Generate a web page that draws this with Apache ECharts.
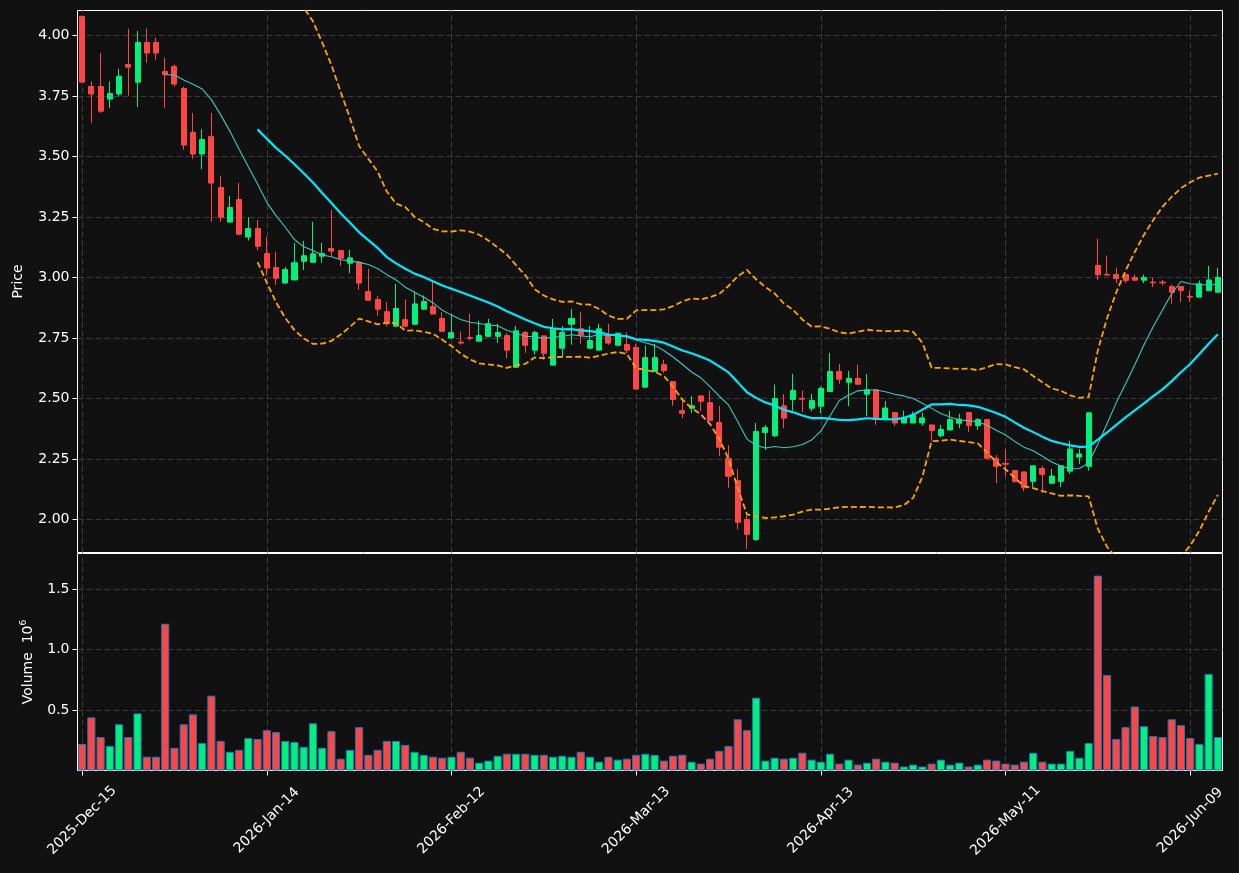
<!DOCTYPE html>
<html>
<head>
<meta charset="utf-8">
<script src="https://cdn.jsdelivr.net/npm/echarts@6/dist/echarts.min.js"></script>
<style>
  html, body { margin: 0; padding: 0; background: #111111; }
  #chart { width: 1239px; height: 873px; }
</style>
</head>
<body>
<div id="chart"></div>
<script>
// trading days, grouped by month
const monthDays = [
  ['2025', 'Dec', [15, 16, 17, 18, 19, 22, 23, 24, 26, 29, 30, 31]],
  ['2026', 'Jan', [2, 5, 6, 7, 8, 9, 12, 13, 14, 15, 16, 20, 21, 22, 23, 26, 27, 28, 29, 30]],
  ['2026', 'Feb', [2, 3, 4, 5, 6, 9, 10, 11, 12, 13, 17, 18, 19, 20, 23, 24, 25, 26, 27]],
  ['2026', 'Mar', [2, 3, 4, 5, 6, 9, 10, 11, 12, 13, 16, 17, 18, 19, 20, 23, 24, 25, 26, 27, 30, 31]],
  ['2026', 'Apr', [1, 2, 6, 7, 8, 9, 10, 13, 14, 15, 16, 17, 20, 21, 22, 23, 24, 27, 28, 29, 30]],
  ['2026', 'May', [1, 4, 5, 6, 7, 8, 11, 12, 13, 14, 15, 18, 19, 20, 21, 22, 26, 27, 28, 29]],
  ['2026', 'Jun', [1, 2, 3, 4, 5, 8, 9, 10, 11, 12]]
];
const dates = [];
monthDays.forEach(function (m) {
  m[2].forEach(function (d) { dates.push(m[0] + '-' + m[1] + '-' + (d < 10 ? '0' + d : d)); });
});

const opens = [
  4.079, 3.789, 3.789, 3.737, 3.758, 3.880, 3.807, 3.971, 3.971, 3.851,
  3.872, 3.781, 3.599, 3.510, 3.583, 3.372, 3.229, 3.322, 3.167, 3.202,
  3.099, 3.041, 2.977, 2.990, 3.067, 3.063, 3.088, 3.120, 3.111, 3.059,
  3.063, 2.942, 2.909, 2.859, 2.799, 2.826, 2.807, 2.869, 2.880, 2.831,
  2.750, 2.733, 2.752, 2.737, 2.757, 2.757, 2.760, 2.629, 2.773, 2.700,
  2.759, 2.638, 2.708, 2.807, 2.788, 2.708, 2.700, 2.759, 2.720, 2.723,
  2.711, 2.547, 2.612, 2.640, 2.570, 2.450, 2.460, 2.511, 2.483, 2.401,
  2.252, 2.161, 2.001, 1.918, 2.360, 2.347, 2.470, 2.496, 2.501, 2.460,
  2.468, 2.529, 2.612, 2.567, 2.583, 2.518, 2.536, 2.416, 2.442, 2.399,
  2.399, 2.399, 2.391, 2.347, 2.370, 2.398, 2.442, 2.388, 2.413, 2.252,
  2.232, 2.203, 2.197, 2.158, 2.211, 2.150, 2.158, 2.200, 2.258, 2.220,
  3.050, 3.012, 3.012, 3.012, 3.000, 2.989, 2.981, 2.981, 2.963, 2.963,
  2.922, 2.919, 2.946, 2.939
];
const highs = [
  4.079, 3.810, 3.928, 3.810, 3.862, 4.028, 4.018, 4.028, 3.990, 3.908,
  3.880, 3.789, 3.680, 3.612, 3.680, 3.420, 3.337, 3.391, 3.249, 3.238,
  3.167, 3.107, 3.043, 3.143, 3.151, 3.230, 3.143, 3.279, 3.111, 3.114,
  3.069, 3.036, 2.924, 2.899, 2.974, 2.909, 2.942, 2.926, 2.982, 2.857,
  2.850, 2.777, 2.850, 2.821, 2.829, 2.809, 2.770, 2.800, 2.780, 2.780,
  2.759, 2.829, 2.800, 2.870, 2.857, 2.800, 2.809, 2.809, 2.770, 2.773,
  2.726, 2.718, 2.726, 2.660, 2.570, 2.492, 2.510, 2.511, 2.533, 2.470,
  2.308, 2.209, 2.017, 2.399, 2.391, 2.558, 2.519, 2.602, 2.533, 2.519,
  2.550, 2.689, 2.643, 2.614, 2.640, 2.602, 2.536, 2.490, 2.442, 2.450,
  2.446, 2.441, 2.391, 2.391, 2.450, 2.437, 2.442, 2.419, 2.413, 2.267,
  2.292, 2.203, 2.197, 2.222, 2.222, 2.209, 2.222, 2.326, 2.292, 2.441,
  3.160, 3.091, 3.040, 3.012, 3.012, 3.012, 2.999, 2.990, 2.971, 2.963,
  2.946, 2.988, 3.048, 3.040
];
const lows = [
  3.807, 3.638, 3.679, 3.701, 3.748, 3.751, 3.704, 3.887, 3.899, 3.701,
  3.789, 3.528, 3.490, 3.448, 3.230, 3.230, 3.227, 3.175, 3.153, 3.112,
  3.008, 2.970, 2.974, 2.990, 3.031, 3.063, 3.061, 3.088, 3.048, 3.018,
  2.949, 2.906, 2.842, 2.798, 2.799, 2.795, 2.807, 2.869, 2.849, 2.778,
  2.750, 2.723, 2.740, 2.737, 2.757, 2.730, 2.667, 2.629, 2.689, 2.682,
  2.660, 2.638, 2.674, 2.722, 2.726, 2.708, 2.700, 2.722, 2.720, 2.687,
  2.539, 2.547, 2.612, 2.605, 2.470, 2.419, 2.441, 2.448, 2.409, 2.263,
  2.131, 1.961, 1.879, 1.912, 2.288, 2.340, 2.377, 2.450, 2.443, 2.448,
  2.440, 2.529, 2.561, 2.468, 2.559, 2.428, 2.391, 2.409, 2.386, 2.399,
  2.399, 2.388, 2.326, 2.340, 2.370, 2.377, 2.362, 2.371, 2.249, 2.150,
  2.178, 2.152, 2.117, 2.134, 2.110, 2.150, 2.134, 2.189, 2.230, 2.202,
  2.990, 3.010, 2.977, 2.977, 2.989, 2.977, 2.960, 2.968, 2.891, 2.898,
  2.898, 2.919, 2.946, 2.939
];
const closes = [
  3.807, 3.758, 3.687, 3.760, 3.831, 3.869, 3.971, 3.927, 3.927, 3.839,
  3.799, 3.547, 3.510, 3.570, 3.390, 3.249, 3.289, 3.179, 3.202, 3.129,
  3.039, 2.997, 3.033, 3.061, 3.090, 3.098, 3.099, 3.109, 3.080, 3.081,
  2.977, 2.906, 2.869, 2.809, 2.872, 2.799, 2.891, 2.901, 2.849, 2.778,
  2.772, 2.729, 2.749, 2.760, 2.809, 2.773, 2.700, 2.780, 2.720, 2.773,
  2.687, 2.788, 2.773, 2.831, 2.762, 2.740, 2.788, 2.729, 2.770, 2.700,
  2.539, 2.669, 2.669, 2.616, 2.496, 2.439, 2.470, 2.489, 2.409, 2.299,
  2.179, 1.989, 1.939, 2.364, 2.380, 2.500, 2.419, 2.533, 2.497, 2.492,
  2.542, 2.612, 2.580, 2.583, 2.559, 2.536, 2.416, 2.461, 2.399, 2.421,
  2.431, 2.420, 2.368, 2.372, 2.413, 2.415, 2.388, 2.413, 2.253, 2.220,
  2.229, 2.158, 2.131, 2.222, 2.187, 2.180, 2.222, 2.292, 2.271, 2.441,
  3.011, 3.010, 2.996, 2.988, 2.989, 3.000, 2.978, 2.978, 2.939, 2.946,
  2.919, 2.974, 2.990, 3.000
];
// volume in millions
const volumes = [
  0.220, 0.440, 0.277, 0.204, 0.383, 0.277, 0.473, 0.114, 0.114, 1.215,
  0.188, 0.383, 0.465, 0.228, 0.620, 0.245, 0.155, 0.171, 0.269, 0.261,
  0.334, 0.318, 0.245, 0.236, 0.196, 0.391, 0.188, 0.326, 0.098, 0.171,
  0.359, 0.130, 0.171, 0.245, 0.245, 0.212, 0.155, 0.130, 0.114, 0.106,
  0.114, 0.155, 0.106, 0.065, 0.082, 0.122, 0.139, 0.139, 0.139, 0.130,
  0.130, 0.114, 0.122, 0.114, 0.155, 0.114, 0.073, 0.114, 0.090, 0.098,
  0.130, 0.139, 0.130, 0.082, 0.122, 0.130, 0.073, 0.057, 0.098, 0.163,
  0.204, 0.424, 0.334, 0.603, 0.082, 0.106, 0.098, 0.106, 0.147, 0.090,
  0.073, 0.139, 0.057, 0.090, 0.049, 0.065, 0.098, 0.073, 0.065, 0.033,
  0.049, 0.033, 0.057, 0.090, 0.049, 0.065, 0.033, 0.049, 0.090, 0.082,
  0.057, 0.049, 0.073, 0.147, 0.073, 0.057, 0.057, 0.163, 0.106, 0.228,
  1.614, 0.791, 0.261, 0.359, 0.530, 0.367, 0.285, 0.277, 0.424, 0.375,
  0.269, 0.220, 0.799, 0.277
];
const priceTicks = [2.00, 2.25, 2.50, 2.75, 3.00, 3.25, 3.50, 3.75, 4.00];
const volumeTicks = [0.5, 1.0, 1.5];
const dateTickIdx = [0, 20, 40, 60, 80, 100, 120];

const UP = '#00f07c', DOWN = '#ff4646';
const GRID_LINE = { color: '#3a3a3a', type: [6, 3], width: 1 };
const BAND_LINE = { color: '#ffa500', width: 1.8, type: [6, 3] };

// rolling mean / bands from the closes
function rolling(n, fn) {
  return closes.map(function (c, i) {
    if (i < n - 1) return '-';
    return fn(closes.slice(i - n + 1, i + 1));
  });
}
function mean(a) { return a.reduce(function (s, v) { return s + v; }, 0) / a.length; }
function std(a) { const m = mean(a); return Math.sqrt(mean(a.map(function (v) { return (v - m) * (v - m); }))); }
const ma10 = rolling(10, mean);
const ma20 = rolling(20, mean);
const bbUp = rolling(20, function (a) { return mean(a) + 2 * std(a); });
const bbDn = rolling(20, function (a) { return mean(a) - 2 * std(a); });

const candles = dates.map(function (d, i) { return [opens[i], closes[i], lows[i], highs[i]]; });
const volBars = volumes.map(function (v, i) {
  return { value: v, itemStyle: { color: closes[i] >= opens[i] ? UP : DOWN } };
});
const vLines = dateTickIdx.map(function (i) { return { xAxis: dates[i] }; });

let chart = echarts.init(document.getElementById('chart'));
chart.setOption({
  animation: false,
  backgroundColor: '#111111',
  textStyle: { fontFamily: 'DejaVu Sans' },
  grid: [
    { left: 77.5, top: 10.5, width: 1145, height: 542, show: true, borderColor: '#ffffff', borderWidth: 1, backgroundColor: 'transparent' },
    { left: 77.5, top: 553.5, width: 1145, height: 217, show: true, borderColor: '#ffffff', borderWidth: 1, backgroundColor: 'transparent' }
  ],
  xAxis: [
    { type: 'category', gridIndex: 0, data: dates, boundaryGap: true,
      axisLine: { show: false }, axisTick: { show: false }, axisLabel: { show: false }, splitLine: { show: false } },
    { type: 'category', gridIndex: 1, data: dates, boundaryGap: true,
      axisLine: { show: false },
      axisTick: { show: true, interval: 19, alignWithLabel: true, length: 5, lineStyle: { color: '#ffffff' } },
      axisLabel: { interval: 19, rotate: 45, align: 'center', verticalAlign: 'middle',
        color: '#ffffff', fontSize: 14, margin: 50 },
      splitLine: { show: false } }
  ],
  yAxis: [
    { type: 'value', gridIndex: 0, min: 1.864, max: 4.103, scale: true,
      name: 'Price', nameLocation: 'middle', nameRotate: 90, nameGap: 52,
      nameTextStyle: { color: '#ffffff', fontSize: 14 },
      axisLine: { show: false },
      axisTick: { show: true, length: 5, customValues: priceTicks, lineStyle: { color: '#ffffff' } },
      axisLabel: { customValues: priceTicks, color: '#ffffff', fontSize: 14, margin: 8,
        formatter: function (v) { return v.toFixed(2); } },
      splitLine: { show: true, lineStyle: GRID_LINE } },
    { type: 'value', gridIndex: 1, min: 0, max: 1.797,
      name: 'Volume  10{sup|6}', nameLocation: 'middle', nameRotate: 90, nameGap: 41,
      nameTextStyle: { color: '#ffffff', fontSize: 14, rich: { sup: { fontSize: 9, verticalAlign: 'top', color: '#ffffff', padding: [0, 0, 8, 0] } } },
      axisLine: { show: false },
      axisTick: { show: true, length: 5, customValues: volumeTicks, lineStyle: { color: '#ffffff' } },
      axisLabel: { customValues: volumeTicks, color: '#ffffff', fontSize: 14, margin: 8,
        formatter: function (v) { return v.toFixed(1); } },
      splitLine: { show: true, lineStyle: GRID_LINE } }
  ],
  series: [
    { type: 'line', xAxisIndex: 0, yAxisIndex: 0, data: [], silent: true, z: 1,
      markLine: { silent: true, symbol: 'none', z: 1, label: { show: false }, lineStyle: GRID_LINE, data: vLines } },
    { type: 'line', xAxisIndex: 1, yAxisIndex: 1, data: [], silent: true, z: 1,
      markLine: { silent: true, symbol: 'none', z: 1, label: { show: false }, lineStyle: GRID_LINE, data: vLines } },
    { name: 'OHLC', type: 'candlestick', xAxisIndex: 0, yAxisIndex: 0, data: candles, z: 3,
      barWidth: '60%',
      itemStyle: { color: UP, color0: DOWN, borderColor: UP, borderColor0: DOWN, borderWidth: 1 } },
    { name: 'MA10', type: 'line', xAxisIndex: 0, yAxisIndex: 0, data: ma10, z: 4,
      symbol: 'none', lineStyle: { color: '#3cc8c0', width: 1.1 } },
    { name: 'MA20', type: 'line', xAxisIndex: 0, yAxisIndex: 0, data: ma20, z: 4,
      symbol: 'none', lineStyle: { color: '#00e8ff', width: 2.2 } },
    { name: 'BB upper', type: 'line', xAxisIndex: 0, yAxisIndex: 0, data: bbUp, z: 4,
      symbol: 'none', lineStyle: BAND_LINE },
    { name: 'BB lower', type: 'line', xAxisIndex: 0, yAxisIndex: 0, data: bbDn, z: 4,
      symbol: 'none', lineStyle: BAND_LINE },
    { name: 'Volume', type: 'bar', xAxisIndex: 1, yAxisIndex: 1, data: volBars, z: 3,
      barWidth: '88%', itemStyle: { borderColor: '#1f77b4', borderWidth: 1 } }
  ]
});
window.onresize = function () { chart.resize(); };
</script>
</body>
</html>
